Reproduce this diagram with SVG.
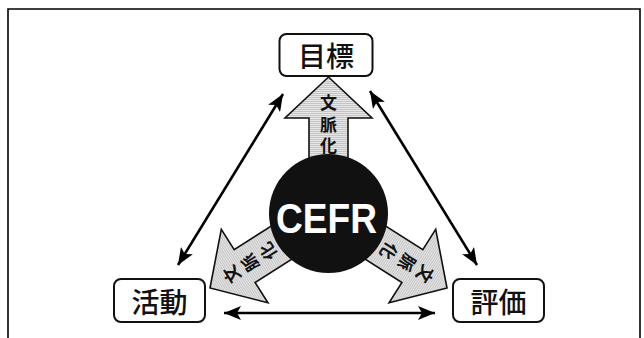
<svg xmlns="http://www.w3.org/2000/svg" width="644" height="338" viewBox="0 0 644 338">
  <style>
    .frame { fill: none; stroke: #000; stroke-width: 1.6; }
    .box { fill: #fff; stroke: #111; stroke-width: 2; }
    .label { font-family: "Noto Sans CJK JP", "Noto Sans CJK SC", sans-serif; font-size: 28px; font-weight: 500; fill: #111; text-anchor: middle; dominant-baseline: central; }
    .conn { fill: none; stroke: #000; stroke-width: 2.6; }
    .bigarrow { fill: url(#hatch); stroke: #111; stroke-width: 1.6; stroke-linejoin: miter; }
    .atext { font-family: "Noto Sans CJK JP", "Noto Sans CJK SC", sans-serif; font-size: 17px; font-weight: 700; fill: #111; text-anchor: middle; writing-mode: vertical-rl; letter-spacing: 4.5px; }
    .cefr { font-family: "Liberation Sans", Arial, sans-serif; font-size: 43px; font-weight: 700; fill: #fff; text-anchor: middle; }
  </style>
  <defs>
    <pattern id="hatch" patternUnits="userSpaceOnUse" width="4" height="2">
      <rect width="4" height="2" fill="#e6e6e6"/>
      <rect width="4" height="0.8" fill="#bdbdbd"/>
    </pattern>
    <marker id="ah" markerUnits="userSpaceOnUse" markerWidth="20" markerHeight="14" refX="17" refY="7" orient="auto-start-reverse" viewBox="0 0 20 14">
      <path d="M17,7 L0,0 L4,7 L0,14 Z" fill="#000"/>
    </marker>
  </defs>

  <path class="frame" d="M8,338 V9 H640 V338"/>

  <g id="connectors">
    <line class="conn" x1="283" y1="94" x2="178" y2="265" marker-start="url(#ah)" marker-end="url(#ah)"/>
    <line class="conn" x1="370" y1="91" x2="477" y2="265" marker-start="url(#ah)" marker-end="url(#ah)"/>
    <line class="conn" x1="224" y1="313" x2="435" y2="313" marker-start="url(#ah)" marker-end="url(#ah)"/>
  </g>

  <g id="arrow-up" transform="translate(328.5,77)">
    <path class="bigarrow" d="M0,0 L43.5,41 L19.5,41 L19.5,112 L-19.5,112 L-19.5,41 L-43.5,41 Z"/>
    <text class="atext" x="0" y="49.5">文脈化</text>
  </g>

  <g id="arrow-left" transform="translate(210,288) rotate(-122.4)">
    <path class="bigarrow" d="M0,0 L43.5,41 L19.5,41 L19.5,112 L-19.5,112 L-19.5,41 L-43.5,41 Z"/>
    <text class="atext" x="0" y="49.5">文脈化</text>
  </g>

  <g id="arrow-right" transform="translate(447,288) rotate(122.4)">
    <path class="bigarrow" d="M0,0 L43.5,41 L19.5,41 L19.5,112 L-19.5,112 L-19.5,41 L-43.5,41 Z"/>
    <text class="atext" x="0" y="49.5">文脈化</text>
  </g>

  <g id="cefr">
    <circle cx="328.5" cy="213.5" r="59.5" fill="#111"/>
    <text class="cefr" x="326.5" y="233" textLength="101" lengthAdjust="spacingAndGlyphs">CEFR</text>
  </g>

  <g id="mokuhyo">
    <rect class="box" x="279.5" y="34" width="93" height="42" rx="7"/>
    <text class="label" x="326" y="55">目標</text>
  </g>

  <g id="katsudo">
    <rect class="box" x="114" y="279" width="91" height="43" rx="7"/>
    <text class="label" x="159.5" y="300.5">活動</text>
  </g>

  <g id="hyoka">
    <rect class="box" x="453" y="279" width="91" height="43" rx="7"/>
    <text class="label" x="498.5" y="300.5">評価</text>
  </g>
</svg>
